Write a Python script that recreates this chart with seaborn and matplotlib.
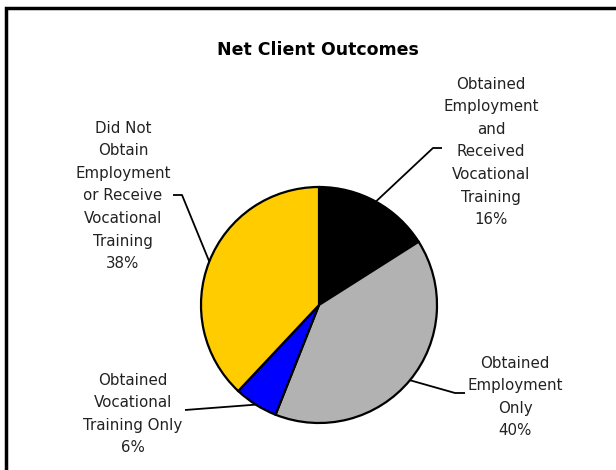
import numpy as np
import matplotlib
matplotlib.use("Agg")
import matplotlib.pyplot as plt
import seaborn as sns
from matplotlib.patches import Rectangle

sns.set_theme(style="white")
plt.rcParams['font.family'] = ['DejaVu Sans']

title = "Net Client Outcomes"
categories = [
    "Obtained\nEmployment\nand\nReceived\nVocational\nTraining",
    "Obtained\nEmployment\nOnly",
    "Obtained\nVocational\nTraining Only",
    "Did Not\nObtain\nEmployment\nor Receive\nVocational\nTraining",
]
values = [16, 40, 6, 38]
colors = ["#000000", "#B2B2B2", "#0000FF", "#FFCC00"]

W, H = 616, 470
fig = plt.figure(figsize=(W / 100, H / 100), dpi=100)
fig.patch.set_facecolor("white")
ax = fig.add_axes([0, 0, 1, 1])

def Y(py):
    return H - py

cx, cy, r = 319, Y(305), 118
wedges, _ = ax.pie(values, colors=colors, startangle=90, counterclock=False,
                   center=(cx, cy), radius=r, frame=True,
                   wedgeprops=dict(edgecolor="black", linewidth=1.6))
ax.set_xlim(0, W)
ax.set_ylim(0, H)
ax.set_aspect("equal")
ax.axis("off")

# frame around chart area
fig.patches.append(Rectangle((6 / W, -0.05), 1.0, (H - 8) / H + 0.05,
                             transform=fig.transFigure, fill=False,
                             edgecolor="black", linewidth=2.5))

ax.text(318, Y(50), title, ha="center", va="center", fontsize=12.5,
        fontweight="bold", color="black")

# label positions (pixel coords) and leader elbows
label_pos = [(491, 152), (515, 397), (133, 414), (123, 196)]
elbows = [[(433, 148), (442, 148)],
          [(455, 393), (465, 393)],
          [(185, 410)],
          [(182, 195), (173, 195)]]

total = float(sum(values))
cum = 0.0
for i, v in enumerate(values):
    mid = (cum + v / 2) / total * 360.0
    cum += v
    ang = np.deg2rad(90 - mid)
    ex, ey = cx + r * np.cos(ang), cy + r * np.sin(ang)
    xs = [ex] + [p[0] for p in elbows[i]]
    ys = [ey] + [Y(p[1]) for p in elbows[i]]
    ax.plot(xs, ys, color="black", linewidth=1.3, solid_capstyle="butt")
    lx, ly = label_pos[i]
    ax.text(lx, Y(ly), f"{categories[i]}\n{v}%", ha="center", va="center",
            fontsize=10.8, color="#222222", linespacing=1.63)

fig.savefig("out.png", dpi=100, facecolor="white")
